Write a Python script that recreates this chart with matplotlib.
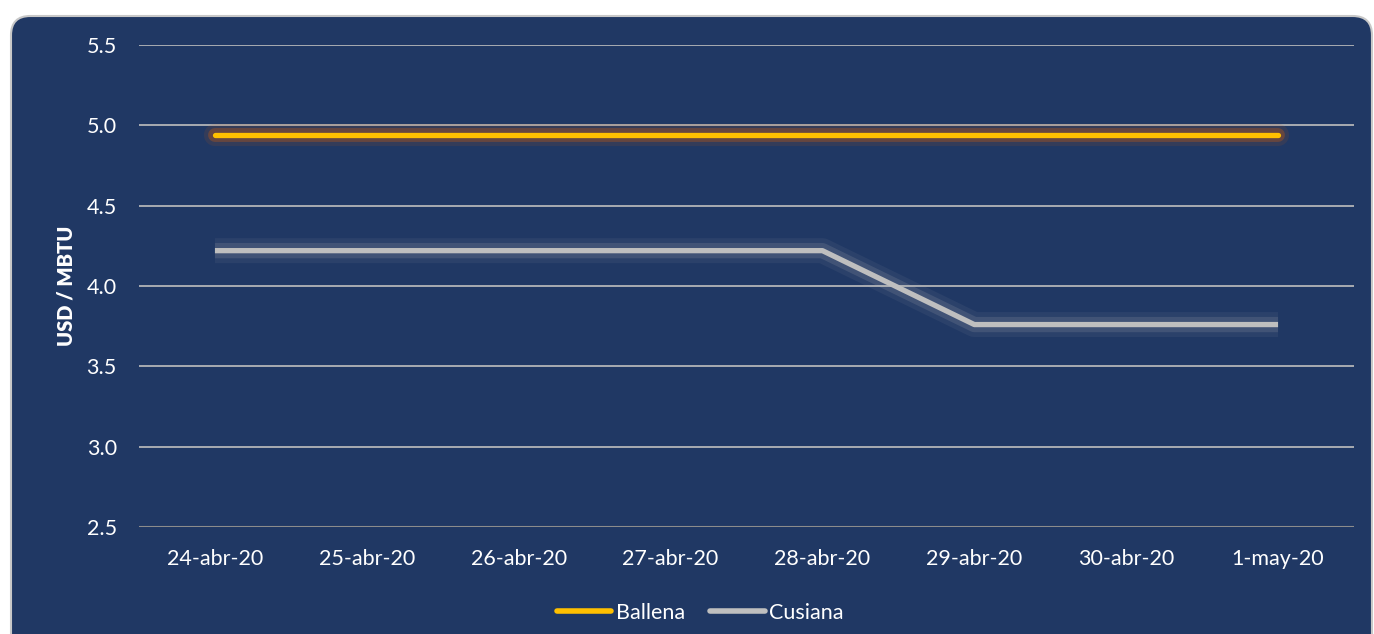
import matplotlib.pyplot as plt
import matplotlib.patheffects as pe
from matplotlib.patches import FancyBboxPatch

# Datos
fechas = ["24-abr-20", "25-abr-20", "26-abr-20", "27-abr-20",
          "28-abr-20", "29-abr-20", "30-abr-20", "1-may-20"]
ballena = [4.94, 4.94, 4.94, 4.94, 4.94, 4.94, 4.94, 4.94]
cusiana = [4.22, 4.22, 4.22, 4.22, 4.22, 3.76, 3.76, 3.76]
yticks = [2.5, 3.0, 3.5, 4.0, 4.5, 5.0, 5.5]

fondo = "#203864"
plt.rcParams['font.family'] = ['Lato', 'DejaVu Sans']

fig = plt.figure(figsize=(13.74, 6.34), dpi=100)
fig.patch.set_facecolor("white")

# Caja redondeada de fondo
caja = FancyBboxPatch((11 / 1374, -0.05), 1361 / 1374, 1 - 16 / 634 + 0.05,
                      boxstyle="round,pad=0,rounding_size=0.014",
                      transform=fig.transFigure, facecolor=fondo,
                      edgecolor="#c8c8c8", linewidth=1.5,
                      mutation_aspect=1374 / 634, zorder=-10)
fig.patches.append(caja)

ax = fig.add_axes([139 / 1374, 1 - 527 / 634, 1215 / 1374, 482 / 634])
ax.set_facecolor("none")

x = list(range(len(fechas)))
ax.plot(x, ballena, color="#ffc000", lw=3.8, solid_capstyle="round",
        label="Ballena", zorder=4,
        path_effects=[pe.Stroke(linewidth=16, foreground="#c55a11", alpha=0.12),
                      pe.Stroke(linewidth=10, foreground="#c55a11", alpha=0.35),
                      pe.Normal()])
ax.plot(x, cusiana, color="#bfbfbf", lw=3.8, solid_capstyle="butt",
        label="Cusiana", zorder=4,
        path_effects=[pe.Stroke(linewidth=18, foreground="#bfbfbf", alpha=0.07),
                      pe.Stroke(linewidth=11, foreground="#bfbfbf", alpha=0.15),
                      pe.Normal()])

ax.set_xlim(-0.5, len(fechas) - 0.5)
ax.set_ylim(2.5, 5.5)
ax.set_yticks(yticks)
ax.set_yticklabels([f"{v:.1f}" for v in yticks])
ax.set_xticks(x)
ax.set_xticklabels(fechas)
ax.grid(axis="y", color="#bfbfbf", lw=1.2, zorder=1)
ax.axhline(2.5, color="#8c8c8c", lw=1.5, zorder=2)
for s in ax.spines.values():
    s.set_visible(False)
ax.tick_params(axis="both", length=0, colors="white", labelsize=15.5)
ax.tick_params(axis="y", pad=16)
ax.tick_params(axis="x", pad=16)
ax.set_ylabel("USD / MBTU", color="white", fontsize=14.5, fontweight="heavy", labelpad=8)

leg = ax.legend(loc="center", bbox_to_anchor=(0.4617, -0.178), ncol=2, frameon=False,
                fontsize=15.5, handlelength=2.55, handletextpad=0.2, columnspacing=1.15)
for t in leg.get_texts():
    t.set_color("white")
for h in leg.get_lines():
    h.set_path_effects([])
    h.set_linewidth(4)
    h.set_solid_capstyle("round")

fig.savefig("out.png", dpi=100, facecolor="white")
